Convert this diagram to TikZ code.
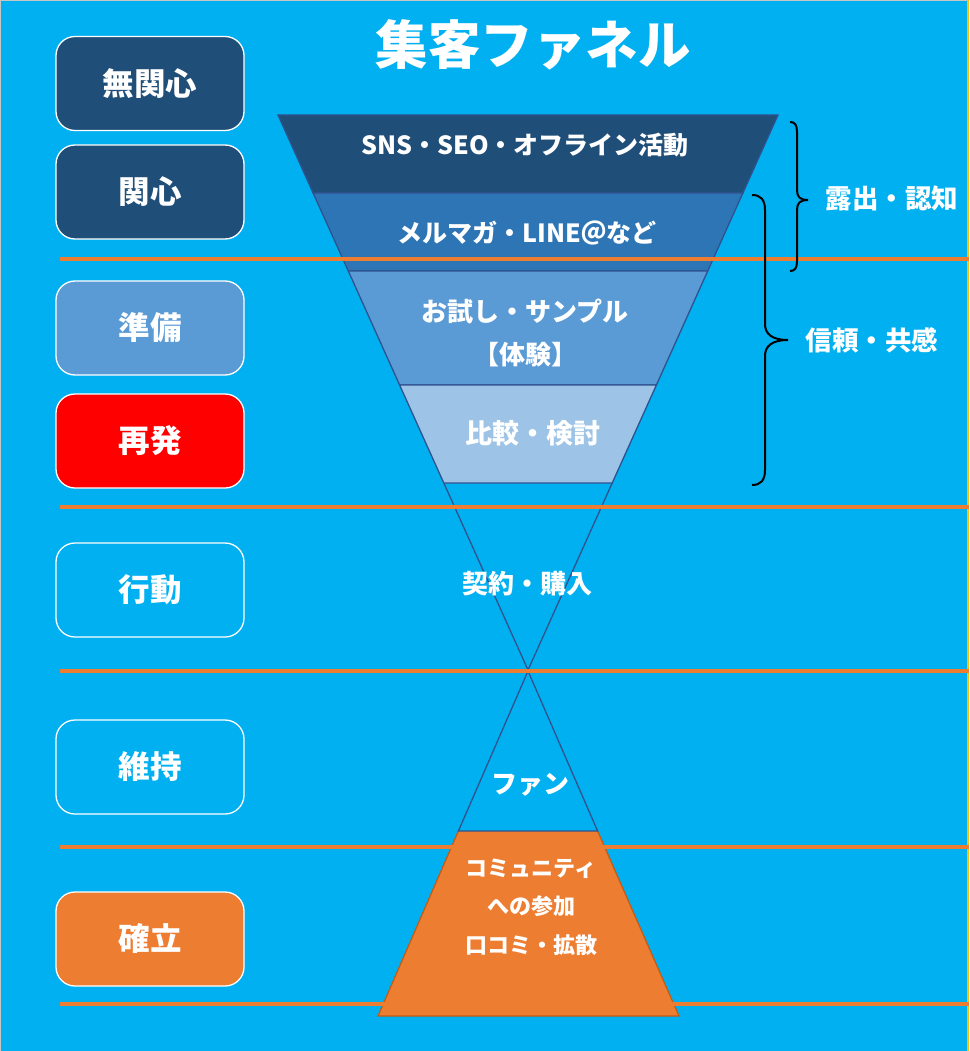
\documentclass[tikz,border=0pt]{standalone}
\usepackage{fontspec}
\setmainfont{Noto Sans CJK JP}
\definecolor{bgblue}{HTML}{00B0F0}
\definecolor{darkblue}{HTML}{1F4E79}
\definecolor{midblue}{HTML}{2E75B6}
\definecolor{lightblue}{HTML}{5B9BD5}
\definecolor{paleblue}{HTML}{9DC3E6}
\definecolor{edgeblue}{HTML}{2F528F}
\definecolor{orng}{HTML}{ED7D31}
\definecolor{orngedge}{HTML}{C55A11}
\definecolor{goldline}{HTML}{FFC000}
\tikzset{
  stagebox/.style={draw=white, line width=1.3pt, rounded corners=19pt,
    minimum width=188pt, minimum height=94pt, text=white,
    font=\fontsize{31.5}{33}\selectfont\bfseries},
  band/.style={draw=edgeblue, line width=1.3pt},
  wtext/.style={text=white, align=center, font=\fontsize{25}{38}\selectfont\bfseries},
  divider/.style={draw=orng, line width=4.5pt},
  bracepath/.style={draw=black, line width=2pt}
}
\begin{document}
\begin{tikzpicture}[x=1pt,y=-1pt]
\fill[bgblue] (0,0) rectangle (969,1051);
\useasboundingbox (0,0) rectangle (969,1051);
\draw[gray!45, line width=1.5pt] (0,1051) -- (0,0) -- (969,0);
\draw[goldline, line width=1.5pt] (968.2,0) -- (968.2,1051);

% title
\node[text=white, font=\fontsize{52.5}{54}\selectfont\bfseries] (title) at (533,45) {集客ファネル};

% funnel bands
\fill[darkblue] (278,115) -- (778,115) -- (742.9,193) -- (313.1,193) -- cycle;
\draw[band] (278,115) -- (778,115) -- (742.9,193) -- (313.1,193) -- cycle;
\fill[midblue] (313.1,193) -- (742.9,193) -- (707.7,271) -- (348.3,271) -- cycle;
\draw[band] (313.1,193) -- (742.9,193) -- (707.7,271) -- (348.3,271) -- cycle;
\fill[lightblue] (348.3,271) -- (707.7,271) -- (656.4,385) -- (399.6,385) -- cycle;
\draw[band] (348.3,271) -- (707.7,271) -- (656.4,385) -- (399.6,385) -- cycle;
\fill[paleblue] (399.6,385) -- (656.4,385) -- (612.2,483) -- (443.8,483) -- cycle;
\draw[band] (399.6,385) -- (656.4,385) -- (612.2,483) -- (443.8,483) -- cycle;
\draw[band] (443.8,483) -- (528,670) -- (612.2,483);

% lower part
\fill[orng] (458.4,831) -- (597.6,831) -- (679,1016) -- (378,1016) -- cycle;
\draw[orngedge, line width=1.2pt] (458.4,831) -- (378,1016) -- (679,1016) -- (597.6,831);
\draw[band] (528,671) -- (458.4,831) -- (597.6,831) -- cycle;

% dividers
\foreach \yy in {259,507,671,847,1004} {
  \draw[divider] (60,\yy) -- (969,\yy);
}

% funnel texts
\node[wtext, font=\fontsize{25}{30}\selectfont\bfseries] (t1) at (525,145) {SNS・SEO・オフライン活動};
\node[wtext, font=\fontsize{25}{30}\selectfont\bfseries] (t2) at (527,233) {メルマガ・LINE＠など};
\node[wtext, font=\fontsize{26}{43}\selectfont\bfseries] (t3) at (525,333) {お試し・サンプル\\【体験】};
\node[wtext, font=\fontsize{27}{30}\selectfont\bfseries] (t4) at (533,433) {比較・検討};
\node[wtext, font=\fontsize{26}{30}\selectfont\bfseries] (t5) at (527,584) {契約・購入};
\node[wtext, font=\fontsize{26}{30}\selectfont\bfseries] (t6) at (530,785) {ファン};
\node[wtext, font=\fontsize{22}{38.5}\selectfont\bfseries] (t7) at (531,907) {コミュニティ\\への参加\\口コミ・拡散};

% stage boxes
\node[stagebox, fill=darkblue] (s1) at (150,83.5) {無関心};
\node[stagebox, fill=darkblue] (s2) at (150,192) {関心};
\node[stagebox, fill=lightblue] (s3) at (150,328) {準備};
\node[stagebox, fill=red] (s4) at (150,441) {再発};
\node[stagebox] (s5) at (150,590) {行動};
\node[stagebox] (s6) at (150,767) {維持};
\node[stagebox, fill=orng] (s7) at (150,939) {確立};

% braces
\draw[bracepath] (790,122) .. controls (795,122) and (797,125) .. (797,132) -- (797,190)
  .. controls (797,197) and (800,200) .. (808,200)
  .. controls (800,200) and (797,203) .. (797,210) -- (797,261)
  .. controls (797,268) and (795,271) .. (790,271);
\draw[bracepath] (752,195) .. controls (761,195) and (765,200) .. (765,210) -- (765,324)
  .. controls (765,334) and (772,340) .. (788,340)
  .. controls (772,340) and (765,346) .. (765,356) -- (765,470)
  .. controls (765,480) and (761,485) .. (752,485);
\node[wtext, font=\fontsize{26.5}{30}\selectfont\bfseries] (r1) at (892,198) {露出・認知};
\node[wtext, font=\fontsize{26.5}{30}\selectfont\bfseries] (r2) at (872,340) {信頼・共感};
\end{tikzpicture}
\end{document}
